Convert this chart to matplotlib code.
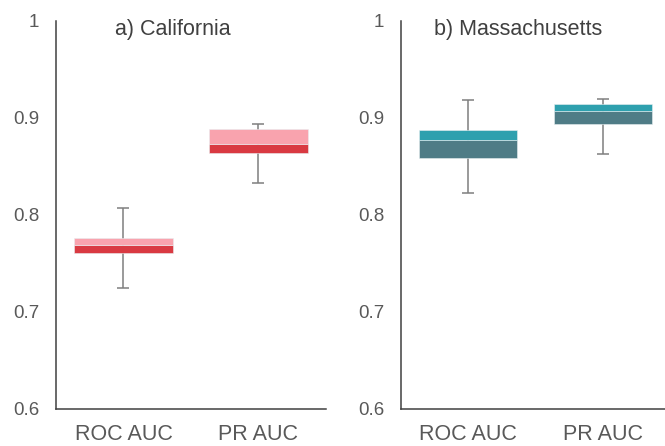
import matplotlib.pyplot as plt

plt.rcParams['font.family'] = ['Liberation Sans', 'DejaVu Sans']

metrics = ['ROC AUC', 'PR AUC']

# box stats per metric: whisker low, Q1, median, Q3, whisker high
ca_low = [0.725, 0.833]
ca_q1 = [0.761, 0.864]
ca_med = [0.769, 0.8735]
ca_q3 = [0.776, 0.889]
ca_high = [0.8075, 0.894]

ma_low = [0.8225, 0.863]
ma_q1 = [0.8585, 0.894]
ma_med = [0.8775, 0.907]
ma_q3 = [0.8875, 0.9145]
ma_high = [0.919, 0.920]

fig = plt.figure(figsize=(6.65, 4.46), dpi=100)
ax1 = fig.add_axes([0.0842, 0.083, 0.406, 0.87])
ax2 = fig.add_axes([0.6026, 0.083, 0.406, 0.87])


def boxes(ax, title, low, q1, med, q3, high, c_low, c_high):
    x = range(len(metrics))
    lo_err = [m - l for m, l in zip(med, low)]
    hi_err = [h - m for m, h in zip(med, high)]
    ax.errorbar(x, med, yerr=[lo_err, hi_err], fmt='none', ecolor='#7f7f7f',
                elinewidth=1.1, capsize=4, capthick=1.1, zorder=1)
    ax.bar(x, [m - a for a, m in zip(q1, med)], bottom=q1, width=0.73,
           color=c_low, edgecolor='#e8eef0', linewidth=0.4, zorder=2)
    ax.bar(x, [b - m for m, b in zip(med, q3)], bottom=med, width=0.73,
           color=c_high, edgecolor='#e8eef0', linewidth=0.4, zorder=2)
    ax.set_xlim(-0.5, 1.5)
    ax.set_ylim(0.6, 1.0)
    ax.set_yticks([0.6, 0.7, 0.8, 0.9, 1.0])
    ax.set_yticklabels(['0.6', '0.7', '0.8', '0.9', '1'])
    ax.set_xticks(list(x))
    ax.set_xticklabels(metrics)
    ax.tick_params(axis='y', length=0, pad=12, labelsize=13.5, labelcolor='#595959')
    ax.tick_params(axis='x', length=0, pad=11, labelsize=15.5, labelcolor='#595959')
    for s in ['top', 'right']:
        ax.spines[s].set_visible(False)
    for s in ['left', 'bottom']:
        ax.spines[s].set_color('#404040')
        ax.spines[s].set_linewidth(1.1)
    ax.text(0.433, 0.977, title, transform=ax.transAxes, ha='center', va='center',
            fontsize=15.5, color='#404040')


boxes(ax1, 'a) California', ca_low, ca_q1, ca_med, ca_q3, ca_high, '#d93a42', '#f9a3ae')
boxes(ax2, 'b) Massachusetts', ma_low, ma_q1, ma_med, ma_q3, ma_high, '#4f7c86', '#2ea0ae')

fig.savefig('out.png', dpi=100)
